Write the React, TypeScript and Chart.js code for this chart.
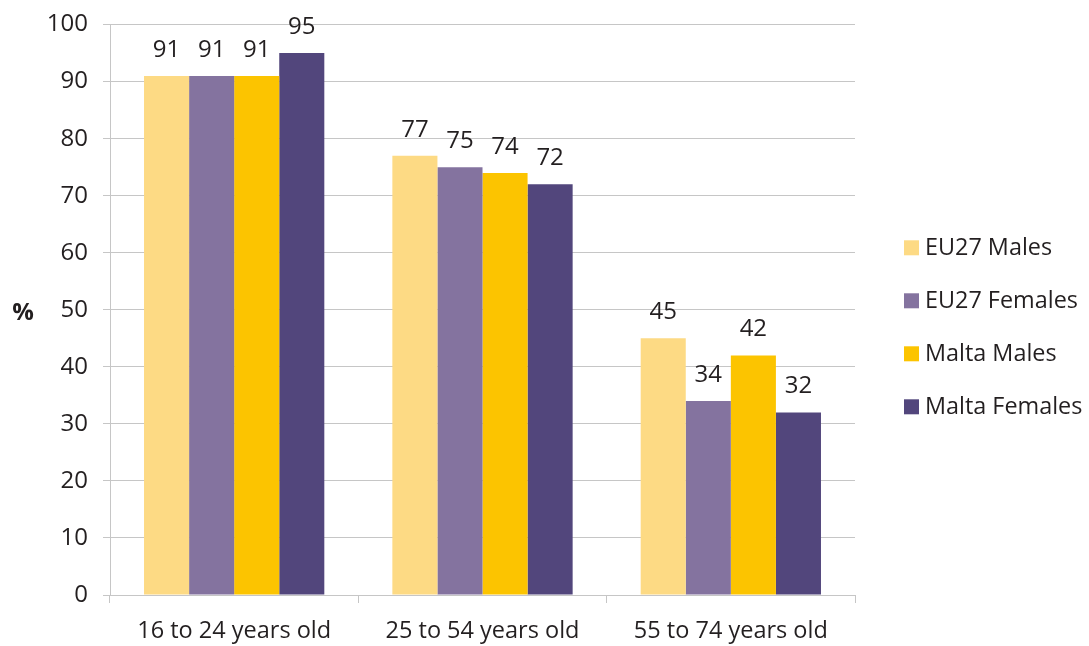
import React, { useEffect, useRef } from "react";
import { Chart, registerables } from "chart.js";

Chart.register(...registerables);

const categories = ["16 to 24 years old", "25 to 54 years old", "55 to 74 years old"];
const seriesNames = ["EU27 Males", "EU27 Females", "Malta Males", "Malta Females"];
const eu27Males = [91, 77, 45];
const eu27Females = [91, 75, 34];
const maltaMales = [91, 74, 42];
const maltaFemales = [95, 72, 32];
const seriesColors = ["#FDDA84", "#84739F", "#FCC400", "#52467C"];
const yMin = 0;
const yMax = 100;
const yStep = 10;
const yAxisTitle = "%";

const FONT = "'Open Sans', 'DejaVu Sans', sans-serif";
const TEXT = "#231F20";
const GRID = "#C6C6C6";

const valueLabels = {
  id: "valueLabels",
  afterDatasetsDraw(chart: any) {
    const ctx = chart.ctx;
    ctx.save();
    ctx.font = `24px ${FONT}`;
    ctx.fillStyle = TEXT;
    ctx.textAlign = "center";
    ctx.textBaseline = "alphabetic";
    chart.data.datasets.forEach((ds: any, i: number) => {
      const meta = chart.getDatasetMeta(i);
      meta.data.forEach((el: any, j: number) => {
        ctx.fillText(String(ds.data[j]), el.x, el.y - 19);
      });
    });
    ctx.restore();
  },
};

const sideLegend = {
  id: "sideLegend",
  afterDraw(chart: any) {
    const ctx = chart.ctx;
    const area = chart.chartArea;
    const mid = (area.top + area.bottom) / 2 + 18;
    const spacing = 53;
    const n = chart.data.datasets.length;
    const boxX = area.right + 49;
    ctx.save();
    ctx.font = `23.4px ${FONT}`;
    ctx.textBaseline = "middle";
    ctx.textAlign = "left";
    chart.data.datasets.forEach((ds: any, i: number) => {
      const cy = mid + (i - (n - 1) / 2) * spacing;
      ctx.fillStyle = ds.backgroundColor;
      ctx.fillRect(boxX, cy - 8, 15, 15);
      ctx.fillStyle = TEXT;
      ctx.fillText(ds.label, boxX + 21, cy);
    });
    ctx.restore();
  },
};

const yTitlePlugin = {
  id: "yTitlePlugin",
  afterDraw(chart: any) {
    const ctx = chart.ctx;
    const area = chart.chartArea;
    ctx.save();
    ctx.font = `bold 24px ${FONT}`;
    ctx.fillStyle = TEXT;
    ctx.textAlign = "center";
    ctx.textBaseline = "middle";
    ctx.fillText(yAxisTitle, 23, (area.top + area.bottom) / 2 + 3);
    ctx.restore();
  },
};

export default function App() {
  const canvasRef = useRef<HTMLCanvasElement | null>(null);

  useEffect(() => {
    if (!canvasRef.current) return;
    const seriesValues = [eu27Males, eu27Females, maltaMales, maltaFemales];
    const chart = new Chart(canvasRef.current, {
      type: "bar",
      data: {
        labels: categories,
        datasets: seriesNames.map((name, i) => ({
          label: name,
          data: seriesValues[i],
          backgroundColor: seriesColors[i],
          borderWidth: 0,
          categoryPercentage: 0.726,
          barPercentage: 1,
        })),
      },
      options: {
        responsive: false,
        animation: false,
        layout: { padding: { top: 24, right: 234, left: 0, bottom: 0 } },
        plugins: {
          legend: { display: false },
          tooltip: { enabled: false },
        },
        scales: {
          x: {
            grid: {
              display: true,
              drawOnChartArea: false,
              offset: true,
              tickLength: 8,
              color: GRID,
              lineWidth: 1,
            },
            border: { color: GRID, width: 1 },
            ticks: {
              color: TEXT,
              font: { family: FONT, size: 23.5 },
              padding: 14,
            },
            afterFit(scale: any) {
              scale.height = 51;
            },
          },
          y: {
            min: yMin,
            max: yMax,
            ticks: {
              stepSize: yStep,
              color: TEXT,
              font: { family: FONT, size: 24, lineHeight: 0.8 },
              padding: 15,
            },
            grid: {
              color: GRID,
              lineWidth: 1,
              tickLength: 7,
            },
            border: { color: GRID, width: 1 },
            afterFit(scale: any) {
              scale.width = 110;
            },
          },
        },
      },
      plugins: [valueLabels, sideLegend, yTitlePlugin],
    });
    return () => chart.destroy();
  }, []);

  return (
    <div style={{ position: "absolute", left: 0, top: 0, width: 1089, height: 646, background: "#fff" }}>
      <canvas ref={canvasRef} width={1089} height={646} />
    </div>
  );
}
